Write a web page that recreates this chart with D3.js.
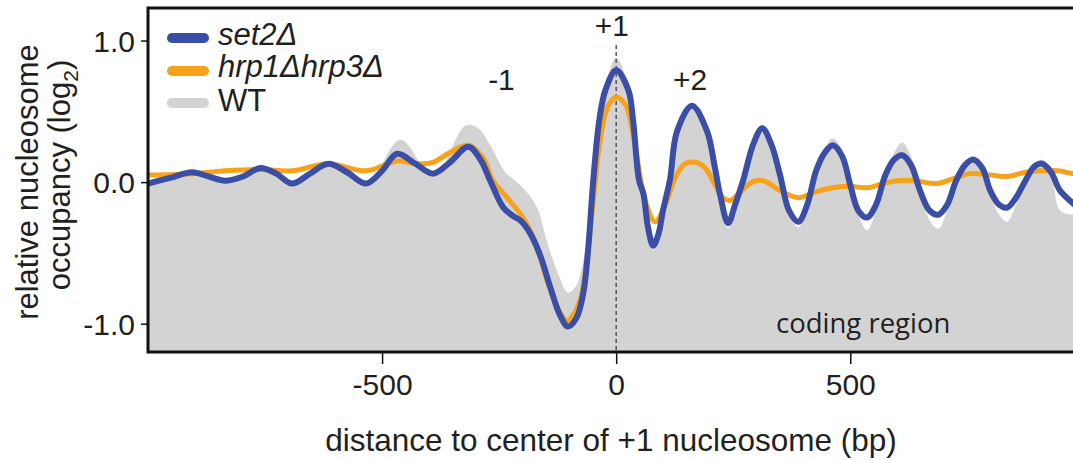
<!DOCTYPE html>
<html>
<head>
<meta charset="utf-8">
<script src="https://cdn.jsdelivr.net/npm/d3@7"></script>
<style>
  body { margin: 0; background: #fff; }
  text { font-family: "Liberation Sans", Arial, sans-serif; fill: #231f20; }
</style>
</head>
<body>
<div id="chart"></div>
<script>
// Profile data (bp from +1 nucleosome center, log2 occupancy)
var set2Bp = [-1000, -953, -906, -871, -835, -797, -760, -726, -692, -654, -615, -575, -534, -500, -468, -429, -391, -355, -316, -290,
  -269, -241, -220, -205, -184, -162, -141, -120, -103, -85, -70, -60, -49, -36, -23, 0, 26, 36, 49, 58,
  68, 79, 90, 100, 115, 130, 162, 194, 211, 222, 239, 254, 271, 293, 312, 331, 350, 369, 389, 408,
  427, 446, 463, 483, 500, 517, 536, 555, 575, 594, 611, 630, 649, 669, 688, 707, 726, 745, 762, 782,
  799, 818, 835, 854, 874, 893, 910, 929, 948, 976, 985];
var set2Occ = [-0.01, 0.03, 0.07, 0.04, 0.01, 0.04, 0.10, 0.06, -0.01, 0.06, 0.13, 0.07, -0.01, 0.08, 0.20, 0.13, 0.06, 0.14, 0.25, 0.16,
  0.01, -0.18, -0.24, -0.27, -0.36, -0.52, -0.74, -0.94, -1.02, -0.96, -0.78, -0.48, 0.01, 0.44, 0.65, 0.79, 0.65, 0.44, 0.01, -0.08,
  -0.32, -0.45, -0.37, -0.20, 0.02, 0.36, 0.54, 0.36, 0.10, -0.09, -0.29, -0.16, 0.01, 0.27, 0.38, 0.27, 0.05, -0.20, -0.28, -0.16,
  0.08, 0.21, 0.26, 0.18, -0.02, -0.20, -0.25, -0.16, 0.05, 0.16, 0.19, 0.12, -0.06, -0.20, -0.23, -0.16, 0.01, 0.12, 0.16, 0.10,
  -0.06, -0.16, -0.18, -0.11, 0.01, 0.11, 0.13, 0.07, -0.06, -0.15, -0.17];

var hrpBp = [-1000, -906, -835, -760, -692, -615, -534, -468, -429, -391, -355, -316, -284, -263, -233, -199, -177, -141, -120, -105,
  -88, -73, -51, -34, -17, 0, 21, 38, 62, 83, 105, 126, 147, 169, 190, 211, 228, 243, 265, 290,
  314, 350, 389, 425, 463, 500, 536, 570, 600, 638, 685, 724, 756, 799, 835, 874, 906, 944, 976, 985];
var hrpOcc = [0.05, 0.06, 0.08, 0.09, 0.08, 0.13, 0.08, 0.15, 0.13, 0.14, 0.21, 0.26, 0.17, 0.01, -0.11, -0.25, -0.39, -0.76, -0.92, -0.98,
  -0.92, -0.78, -0.20, 0.30, 0.54, 0.60, 0.54, 0.30, -0.13, -0.28, -0.16, 0.03, 0.13, 0.14, 0.10, -0.02, -0.11, -0.13, -0.07, 0.00,
  0.01, -0.06, -0.11, -0.07, -0.04, -0.03, -0.04, -0.01, 0.01, 0.01, -0.01, 0.03, 0.06, 0.05, 0.04, 0.07, 0.08, 0.08, 0.06, 0.06];

var wtBp = [-1000, -906, -835, -760, -692, -615, -534, -461, -391, -322, -295, -269, -237, -216, -199, -169, -147, -120, -103, -85,
  -70, -56, -41, -23, 0, 28, 45, 58, 68, 79, 90, 100, 115, 130, 162, 194, 211, 222, 239, 254,
  271, 293, 312, 331, 350, 369, 389, 408, 427, 446, 463, 483, 500, 517, 536, 555, 575, 594, 611, 630,
  649, 669, 688, 707, 726, 745, 762, 782, 799, 818, 835, 854, 874, 893, 910, 929, 948, 976, 985];
var wtOcc = [0.01, 0.07, 0.00, 0.10, -0.01, 0.14, -0.01, 0.30, 0.04, 0.40, 0.38, 0.26, 0.07, 0.01, -0.04, -0.18, -0.43, -0.68, -0.78, -0.73,
  -0.55, -0.20, 0.16, 0.65, 0.88, 0.65, 0.23, -0.06, -0.30, -0.48, -0.41, -0.20, 0.03, 0.38, 0.56, 0.38, 0.11, -0.13, -0.33, -0.18,
  0.01, 0.28, 0.40, 0.28, 0.05, -0.21, -0.32, -0.18, 0.08, 0.24, 0.31, 0.22, -0.02, -0.23, -0.34, -0.20, 0.05, 0.21, 0.28, 0.18,
  -0.06, -0.27, -0.33, -0.20, 0.01, 0.12, 0.16, 0.10, -0.09, -0.23, -0.28, -0.16, -0.02, 0.11, 0.16, 0.07, -0.20, -0.23, -0.23];

var xTicks = [-500, 0, 500];
var yTicks = [-1, 0, 1];
var legendNames = ["set2Δ", "hrp1Δhrp3Δ", "WT"];
var legendColors = ["#3a4ea6", "#f7a21b", "#d3d3d3"];
var peakLabels = [{label: "-1", bp: -245, v: 0.65}, {label: "+1", bp: -9, v: 1.03}, {label: "+2", bp: 158, v: 0.65}];

// SVG area
var svgWidth = 1073;
var svgHeight = 460;
var plot = { left: 148, top: 8, right: 1075, bottom: 352 };

var svg = d3.select("#chart")
  .append("svg")
  .attr("width", svgWidth)
  .attr("height", svgHeight);

var xScale = d3.scaleLinear()
  .domain([-1000, 980])
  .range([plot.left, plot.right]);

var yScale = d3.scaleLinear()
  .domain([-1.2, 1.23])
  .range([plot.bottom, plot.top]);

svg.append("clipPath")
  .attr("id", "clip")
  .append("rect")
  .attr("x", plot.left)
  .attr("y", plot.top)
  .attr("width", svgWidth - plot.left)
  .attr("height", plot.bottom - plot.top);

var pts = function(bp, occ) { return bp.map((d, i) => [d, occ[i]]); };
var curve = d3.curveCatmullRom.alpha(0.5);

var plotGroup = svg.append("g").attr("clip-path", "url(#clip)");

// WT as filled area
var area = d3.area()
  .x(d => xScale(d[0]))
  .y0(plot.bottom)
  .y1(d => yScale(d[1]))
  .curve(curve);

plotGroup.append("path")
  .datum(pts(wtBp, wtOcc))
  .attr("fill", legendColors[2])
  .attr("d", area);

var line = d3.line()
  .x(d => xScale(d[0]))
  .y(d => yScale(d[1]))
  .curve(curve);

// dashed line at +1 center
plotGroup.append("line")
  .attr("x1", xScale(0)).attr("x2", xScale(0))
  .attr("y1", 45).attr("y2", plot.bottom)
  .attr("stroke", "#555")
  .attr("stroke-width", 1.5)
  .attr("stroke-dasharray", "4,3");

plotGroup.append("path")
  .datum(pts(hrpBp, hrpOcc))
  .attr("fill", "none")
  .attr("stroke", legendColors[1])
  .attr("stroke-width", 5)
  .attr("d", line);

plotGroup.append("path")
  .datum(pts(set2Bp, set2Occ))
  .attr("fill", "none")
  .attr("stroke", legendColors[0])
  .attr("stroke-width", 6)
  .attr("d", line);

// frame
svg.append("path")
  .attr("d", `M${svgWidth},${plot.top}H${plot.left}V${plot.bottom}H${svgWidth}`)
  .attr("fill", "none")
  .attr("stroke", "#111")
  .attr("stroke-width", 3);

// axes (plain hyphen for negatives, like the figure)
var hyphen = f => (d => f(d).replace("−", "-"));
var bottomAxis = d3.axisBottom(xScale).tickValues(xTicks).tickSize(11).tickPadding(10).tickFormat(hyphen(d3.format("d")));
var leftAxis = d3.axisLeft(yScale).tickValues(yTicks).tickSize(6).tickPadding(6).tickFormat(hyphen(d3.format(".1f")));

var xAxisG = svg.append("g")
  .attr("transform", `translate(0, ${plot.bottom + 1})`)
  .call(bottomAxis);
var yAxisG = svg.append("g")
  .attr("transform", `translate(${plot.left - 1}, 0)`)
  .call(leftAxis);

[xAxisG, yAxisG].forEach(function(g) {
  g.select(".domain").remove();
  g.selectAll(".tick line").attr("stroke", "#111").attr("stroke-width", 1.5);
  g.selectAll(".tick text")
    .style("font-family", "Liberation Sans, Arial, sans-serif")
    .style("font-size", "30px")
    .attr("fill", "#231f20");
});
yAxisG.selectAll(".tick text").attr("dy", "0.36em");

// axis titles
svg.append("text")
  .attr("x", 611)
  .attr("y", 451)
  .attr("text-anchor", "middle")
  .style("font-size", "31.5px")
  .text("distance to center of +1 nucleosome (bp)");

svg.append("text")
  .attr("transform", "translate(38, 182) rotate(-90)")
  .attr("text-anchor", "middle")
  .style("font-size", "31px")
  .text("relative nucleosome");

var yTitle2 = svg.append("text")
  .attr("transform", "translate(70, 175) rotate(-90)")
  .attr("text-anchor", "middle")
  .style("font-size", "31px");
yTitle2.append("tspan").text("occupancy (log");
yTitle2.append("tspan").attr("dy", 8).style("font-size", "21px").text("2");
yTitle2.append("tspan").attr("dy", -8).text(")");

// peak labels
svg.selectAll(".peakLabel")
  .data(peakLabels)
  .enter()
  .append("text")
  .attr("class", "peakLabel")
  .attr("x", d => xScale(d.bp))
  .attr("y", d => yScale(d.v))
  .attr("text-anchor", "middle")
  .style("font-size", "30px")
  .text(d => d.label);

svg.append("text")
  .attr("x", 776)
  .attr("y", 333)
  .style("font-family", "'Open Sans', 'Noto Sans', sans-serif")
  .style("font-size", "27.5px")
  .text("coding region");

// legend
var legend = svg.append("g").attr("class", "legend");
var legendY = [38, 71, 103];
var legendBase = [45, 77, 111];
legendNames.forEach(function(name, i) {
  legend.append("line")
    .attr("x1", 172).attr("x2", 204)
    .attr("y1", legendY[i]).attr("y2", legendY[i])
    .attr("stroke", legendColors[i])
    .attr("stroke-width", 10)
    .attr("stroke-linecap", "round");
  legend.append("text")
    .attr("x", 218)
    .attr("y", legendBase[i])
    .style("font-size", "31px")
    .style("font-style", i < 2 ? "italic" : "normal")
    .text(name);
});
</script>
</body>
</html>
